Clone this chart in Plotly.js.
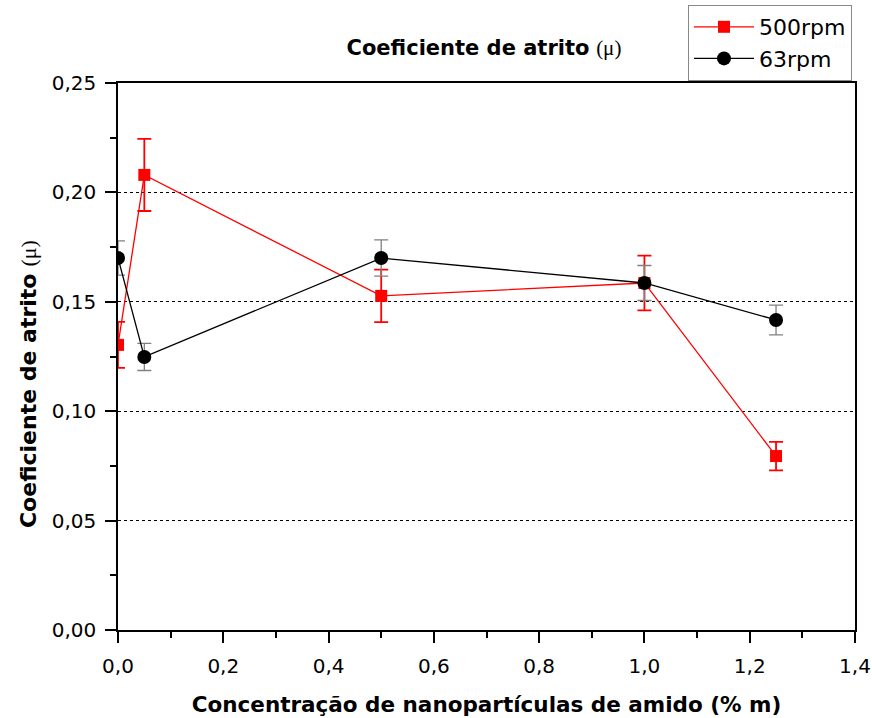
<!DOCTYPE html>
<html><head><meta charset="utf-8">
<script src="https://cdn.plot.ly/plotly-3.0.1.min.js"></script>
<style>body{margin:0;background:#fff}#chart{width:872px;height:718px}</style>
</head><body><div id="chart"></div>
<script>
const concentration = [0, 0.05, 0.5, 1.0, 1.25];
const mu500 = [0.1303, 0.208, 0.1527, 0.1586, 0.0795];
const err500 = [0.0105, 0.0165, 0.012, 0.0125, 0.0065];
const mu63 = [0.170, 0.1248, 0.170, 0.1586, 0.1417];
const err63 = [0.0078, 0.0062, 0.0083, 0.008, 0.0068];
const seriesNames = ['500rpm', '63rpm'];

const traces = [
  {x: concentration, y: mu500, name: seriesNames[0], type: 'scatter', mode: 'lines+markers',
   line: {color: '#ff0000', width: 1.3}, marker: {symbol: 'square', size: 12, color: '#ff0000'},
   error_y: {type: 'data', array: err500, visible: true, color: '#ff0000', thickness: 1.8, width: 7}},
  {x: concentration, y: mu63, name: seriesNames[1], type: 'scatter', mode: 'lines+markers',
   line: {color: '#000000', width: 1.3}, marker: {symbol: 'circle', size: 14, color: '#000000'},
   error_y: {type: 'data', array: err63, visible: true, color: '#808080', thickness: 1.3, width: 7}}
];

const sans = 'DejaVu Sans, sans-serif';
const serifMu = '<span style="font-family:Liberation Serif, serif;font-weight:normal">(μ)</span>';
const axisFont = {family: sans, size: 20, color: '#000'};
const layout = {
  width: 872, height: 718,
  margin: {l: 118, r: 17, t: 83, b: 88, autoexpand: false},
  paper_bgcolor: '#fff', plot_bgcolor: '#fff',
  separators: ',.',
  showlegend: true,
  title: {text: '<b>Coeficiente de atrito</b> ' + serifMu, x: 0.555, xanchor: 'center', y: 0.934, yanchor: 'middle',
          font: {family: sans, size: 21, color: '#000'}},
  xaxis: {range: [0, 1.4], dtick: 0.2, tickformat: '.1f', showgrid: false, zeroline: false,
          showline: true, linecolor: '#000', linewidth: 1.5, mirror: true,
          ticks: 'outside', ticklen: 11, tickwidth: 1.5, tickcolor: '#000', ticklabelstandoff: 6,
          minor: {dtick: 0.1, ticks: 'outside', ticklen: 6, tickwidth: 1.5, tickcolor: '#000', showgrid: false},
          tickfont: axisFont,
          title: {text: '<b>Concentração de nanopartículas de amido (% m)</b>', standoff: 20,
                  font: {family: sans, size: 21.5, color: '#000'}}},
  yaxis: {range: [0, 0.25], dtick: 0.05, tickformat: '.2f', showgrid: true, gridcolor: '#000', griddash: 'dot', gridwidth: 1,
          zeroline: false, showline: true, linecolor: '#000', linewidth: 1.5, mirror: true,
          ticks: 'outside', ticklen: 11, tickwidth: 1.5, tickcolor: '#000', ticklabelstandoff: 5,
          minor: {dtick: 0.025, ticks: 'outside', ticklen: 6, tickwidth: 1.5, tickcolor: '#000', showgrid: false},
          tickfont: axisFont},
  annotations: [{text: '<b>Coeficiente de atrito</b> ' + serifMu, textangle: -90, showarrow: false,
                 xref: 'paper', yref: 'paper', x: -0.1221, y: 0.4497, xanchor: 'center', yanchor: 'middle',
                 font: {family: sans, size: 22, color: '#000'}}],
  legend: {x: 0.7734, y: 1.1426, xanchor: 'left', yanchor: 'top', bgcolor: '#fff',
           bordercolor: '#888', borderwidth: 1, font: {family: sans, size: 22, color: '#000'},
           itemwidth: 60, tracegroupgap: 0}
};
Plotly.newPlot('chart', traces, layout, {displayModeBar: false});
</script></body></html>
